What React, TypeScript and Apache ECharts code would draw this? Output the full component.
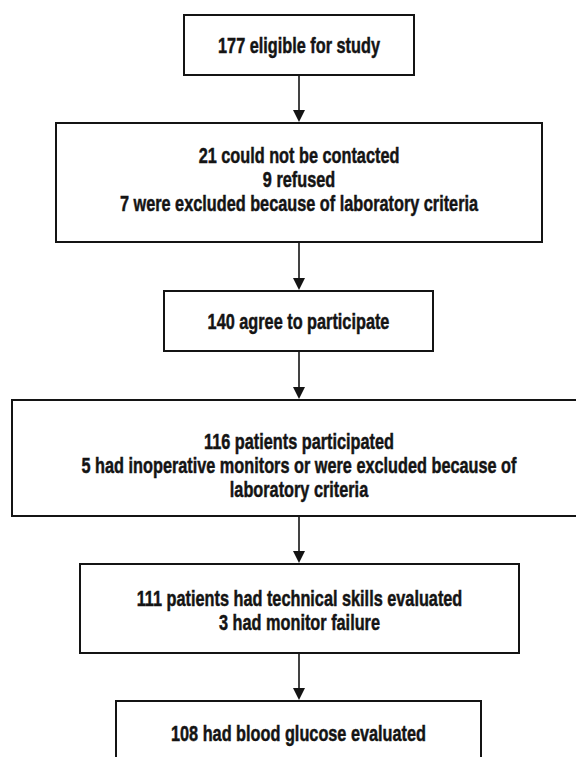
import React, { useEffect, useRef } from "react";
import * as echarts from "echarts";

// Flowchart content (top to bottom)
const boxTexts: string[] = [
  "177 eligible for study",
  "21 could not be contacted\n9 refused\n7 were excluded because of laboratory criteria",
  "140 agree to participate",
  "116 patients participated\n5 had inoperative monitors or were excluded because of\nlaboratory criteria",
  "111 patients had technical skills evaluated\n3 had monitor failure",
  "108 had blood glucose evaluated",
];

// Layout of each box: [left, top, width, height, textCenterY]
const boxLayout: number[][] = [
  [184, 15, 230, 60, 45],
  [56, 123, 486, 119, 179],
  [164, 291, 269, 60, 321],
  [12, 400, 574, 116, 465],
  [80, 564, 439, 89, 610],
  [116, 701, 365, 90, 733],
];

const CX = 299;
const FONT = "'Liberation Sans', Arial, sans-serif";
const INK = "#141414";
const CONDENSE = 0.74;

export default function App() {
  const ref = useRef<HTMLDivElement>(null);
  useEffect(() => {
    if (!ref.current) return;
    const chart = echarts.init(ref.current, undefined, { renderer: "svg" });
    const elements: any[] = [];
    boxLayout.forEach((b, i) => {
      const [x, y, w, h, ty] = b;
      elements.push({
        type: "rect",
        shape: { x, y, width: w, height: h },
        style: { fill: "#fff", stroke: INK, lineWidth: 2 },
        z: 1,
      });
      elements.push({
        type: "text",
        x: x + w / 2,
        y: ty,
        scaleX: CONDENSE,
        style: {
          text: boxTexts[i],
          fill: INK,
          stroke: INK,
          lineWidth: 0.5,
          font: `bold 22px ${FONT}`,
          textAlign: "center",
          textVerticalAlign: "middle",
          lineHeight: 24,
        },
        z: 3,
      });
      if (i < boxLayout.length - 1) {
        const next = boxLayout[i + 1];
        const y0 = y + h;
        const y1 = next[1];
        const headH = 13;
        const headW = 12;
        elements.push({
          type: "line",
          shape: { x1: CX, y1: y0, x2: CX, y2: y1 - headH + 1 },
          style: { stroke: INK, lineWidth: 1.6 },
          z: 2,
        });
        elements.push({
          type: "polygon",
          shape: {
            points: [
              [CX - headW / 2, y1 - headH],
              [CX + headW / 2, y1 - headH],
              [CX, y1 - 1],
            ],
          },
          style: { fill: INK },
          z: 2,
        });
      }
    });
    chart.setOption({
      animation: false,
      backgroundColor: "#ffffff",
      graphic: { elements },
    });
    return () => chart.dispose();
  }, []);
  return (
    <div
      ref={ref}
      style={{ position: "fixed", left: 0, top: 0, width: 576, height: 757, background: "#fff" }}
    />
  );
}
